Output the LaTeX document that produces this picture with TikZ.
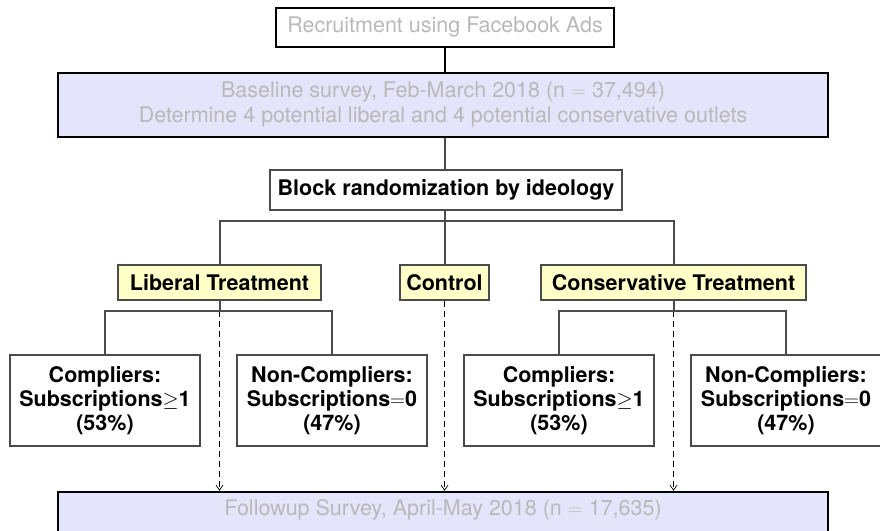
\documentclass[tikz,border=0pt]{standalone}
\usepackage{fontspec}
\setmainfont{TeX Gyre Heros}
\usetikzlibrary{arrows.meta}
\definecolor{lavender}{RGB}{228,228,250}
\definecolor{paleyellow}{RGB}{255,255,200}
\definecolor{greytext}{RGB}{185,185,185}
\definecolor{treegrey}{RGB}{75,75,75}
\begin{document}
\begin{tikzpicture}[x=1pt,y=1pt,
  every node/.style={font=\fontsize{21.5}{25}\selectfont, inner sep=2pt, align=center},
  blackbox/.style={draw=black, line width=2pt, text=greytext},
  surveybox/.style={draw=black, line width=2.5pt, fill=lavender, text=greytext},
  greybox/.style={draw=treegrey, line width=1.5pt, fill=white, font=\fontsize{21.5}{24}\selectfont\bfseries},
  armbox/.style={greybox, fill=paleyellow},
  tree/.style={draw=treegrey, line width=2pt},
  dasharrow/.style={draw=black, line width=0.7pt, dash pattern=on 6pt off 4pt, -{Straight Barb[length=5pt,width=7pt]}}
]
\useasboundingbox (0,0) rectangle (880,530);
\clip (0,0) rectangle (880,530);

\node[blackbox, minimum width=338, minimum height=39] (rec) at (445,502.5) {Recruitment using Facebook Ads};
\node[surveybox, minimum width=770, minimum height=64] (base) at (443,425)
  {Baseline survey, Feb-March 2018 (n $=$ 37,494)\\Determine 4 potential liberal and 4 potential conservative outlets};
\node[greybox, minimum width=352, minimum height=40] (block) at (446,340) {Block randomization by ideology};

\node[armbox, minimum width=203, minimum height=35] (lib) at (219.5,247.5) {Liberal Treatment};
\node[armbox, minimum width=89, minimum height=35] (ctl) at (444.5,247.5) {Control};
\node[armbox, minimum width=265, minimum height=35] (con) at (673.5,247.5) {Conservative Treatment};

\node[greybox, minimum width=190, minimum height=91] (c1) at (105,129.5) {Compliers:\\Subscriptions$\geq$1\\(53\%)};
\node[greybox, minimum width=190, minimum height=91] (n1) at (332,129.5) {Non-Compliers:\\Subscriptions$=$0\\(47\%)};
\node[greybox, minimum width=190, minimum height=91] (c2) at (559,129.5) {Compliers:\\Subscriptions$\geq$1\\(53\%)};
\node[greybox, minimum width=190, minimum height=91] (n2) at (786,129.5) {Non-Compliers:\\Subscriptions$=$0\\(47\%)};

\node[surveybox, minimum width=770, minimum height=64] (follow) at (443,6)
  {Followup Survey, April-May 2018 (n $=$ 17,635)\\\strut};

% dashed arrows to the followup survey
\draw[dasharrow] (lib.south) -- (lib.south |- follow.north);
\draw[dasharrow] (ctl.south) -- (ctl.south |- follow.north);
\draw[dasharrow] (con.south) -- (con.south |- follow.north);

% top connectors
\draw[black, line width=2pt] (rec.south) -- (rec.south |- base.north);
\draw[treegrey, line width=2pt] (block.north -| rec.south) -- (rec.south |- base.south);

% randomization tree
\coordinate (j0) at (445,309);
\draw[tree] (block.south -| j0) -- (j0);
\draw[tree] (j0) -| (lib.north);
\draw[tree] (j0) -- (j0 |- ctl.north);
\draw[tree] (j0) -| (con.north);

\coordinate (jl) at (219.5,219);
\coordinate (jc) at (673.5,219);
\draw[tree] (lib.south) -- (jl);
\draw[tree] (jl) -| (c1.north);
\draw[tree] (jl) -| (n1.north);
\draw[tree] (con.south) -- (jc);
\draw[tree] (jc) -| (c2.north);
\draw[tree] (jc) -| (n2.north);
\end{tikzpicture}
\end{document}
